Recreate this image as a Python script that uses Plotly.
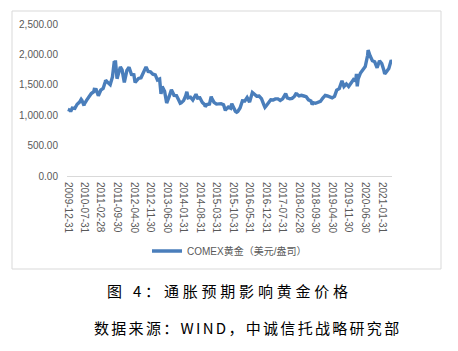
import plotly.graph_objects as go

dates = [
    "2009-12-31", "2010-01-29", "2010-02-05", "2010-02-26", "2010-03-31", "2010-04-30", "2010-05-31",
    "2010-06-21", "2010-06-30", "2010-07-28", "2010-07-30", "2010-08-31", "2010-09-30", "2010-10-29",
    "2010-11-30", "2010-12-07", "2010-12-31", "2011-01-28", "2011-02-28", "2011-03-31", "2011-04-29",
    "2011-05-02", "2011-05-31", "2011-06-30", "2011-07-29", "2011-08-22", "2011-08-31", "2011-09-05",
    "2011-09-26", "2011-09-30", "2011-10-31", "2011-11-08", "2011-11-30", "2011-12-29", "2012-01-31",
    "2012-02-28", "2012-03-30", "2012-04-30", "2012-05-16", "2012-05-31", "2012-06-29", "2012-07-31",
    "2012-08-31", "2012-09-28", "2012-10-04", "2012-10-31", "2012-11-30", "2012-12-31", "2013-01-31",
    "2013-02-28", "2013-03-28", "2013-04-15", "2013-04-30", "2013-05-31", "2013-06-27", "2013-07-31",
    "2013-08-27", "2013-09-30", "2013-10-31", "2013-11-29", "2013-12-19", "2013-12-31", "2014-01-31",
    "2014-02-28", "2014-03-14", "2014-03-31", "2014-04-30", "2014-05-30", "2014-06-30", "2014-07-10",
    "2014-07-31", "2014-08-29", "2014-09-30", "2014-10-31", "2014-11-06", "2014-11-28", "2014-12-31",
    "2015-01-22", "2015-01-30", "2015-02-27", "2015-03-31", "2015-04-30", "2015-05-29", "2015-06-30",
    "2015-07-24", "2015-07-31", "2015-08-31", "2015-09-30", "2015-10-14", "2015-10-30", "2015-11-30",
    "2015-12-17", "2015-12-31", "2016-01-29", "2016-02-29", "2016-03-31", "2016-04-29", "2016-05-31",
    "2016-06-30", "2016-07-06", "2016-07-29", "2016-08-31", "2016-09-30", "2016-10-31", "2016-11-30",
    "2016-12-15", "2016-12-30", "2017-01-31", "2017-02-28", "2017-03-31", "2017-04-28", "2017-05-31",
    "2017-06-30", "2017-07-31", "2017-08-31", "2017-09-08", "2017-09-29", "2017-10-31", "2017-11-30",
    "2017-12-29", "2018-01-25", "2018-01-31", "2018-02-28", "2018-03-30", "2018-04-30", "2018-05-31",
    "2018-06-29", "2018-07-31", "2018-08-16", "2018-08-31", "2018-09-28", "2018-10-31", "2018-11-30",
    "2018-12-31", "2019-01-31", "2019-02-28", "2019-03-29", "2019-04-30", "2019-05-31", "2019-06-28",
    "2019-07-31", "2019-08-30", "2019-09-04", "2019-09-30", "2019-10-31", "2019-11-29", "2019-12-31",
    "2020-01-31", "2020-02-28", "2020-03-09", "2020-03-19", "2020-03-31", "2020-04-30", "2020-05-29",
    "2020-06-30", "2020-07-31", "2020-08-06", "2020-08-31", "2020-09-30", "2020-10-30", "2020-11-30",
    "2020-12-31", "2021-01-29", "2021-02-26", "2021-03-08", "2021-03-31", "2021-04-30", "2021-05-31",
    "2021-06-04",
]
gold = [
    1096, 1081, 1058, 1118, 1113, 1180, 1215,
    1260, 1245, 1158, 1181, 1248, 1308, 1357,
    1386, 1425, 1421, 1320, 1411, 1439, 1556,
    1575, 1536, 1502, 1628, 1890, 1828, 1900,
    1600, 1620, 1725, 1795, 1746, 1540, 1738,
    1790, 1669, 1664, 1538, 1560, 1604, 1615,
    1692, 1776, 1795, 1719, 1714, 1675, 1663,
    1578, 1595, 1350, 1472, 1393, 1200, 1313,
    1420, 1327, 1323, 1250, 1195, 1202, 1240,
    1321, 1385, 1284, 1296, 1250, 1322, 1345,
    1282, 1287, 1210, 1172, 1140, 1175, 1184,
    1305, 1279, 1213, 1183, 1182, 1190, 1172,
    1080, 1095, 1135, 1115, 1190, 1142, 1065,
    1050, 1061, 1118, 1238, 1234, 1291, 1215,
    1322, 1375, 1350, 1311, 1316, 1272, 1174,
    1130, 1152, 1212, 1254, 1249, 1268, 1268,
    1242, 1270, 1322, 1355, 1284, 1270, 1277,
    1309, 1365, 1345, 1318, 1327, 1316, 1305,
    1253, 1233, 1175, 1206, 1196, 1215, 1226,
    1283, 1325, 1316, 1298, 1285, 1310, 1413,
    1437, 1529, 1565, 1472, 1514, 1472, 1523,
    1587, 1566, 1680, 1475, 1597, 1694, 1751,
    1800, 1986, 2070, 1978, 1895, 1879, 1780,
    1895, 1850, 1734, 1680, 1715, 1769, 1905,
    1892,
]

tick_dates = [
    "2009-12-31", "2010-07-31", "2011-02-28", "2011-09-30", "2012-04-30", "2012-11-30",
    "2013-06-30", "2014-01-31", "2014-08-31", "2015-03-31", "2015-10-31", "2016-05-31",
    "2016-12-31", "2017-07-31", "2018-02-28", "2018-09-30", "2019-04-30", "2019-11-30",
    "2020-06-30", "2021-01-31",
]
tick_labels = list(tick_dates)
y_ticks = [0, 500, 1000, 1500, 2000, 2500]

series_name = "COMEX黄金（美元/盎司）"
caption = "图 4：通胀预期影响黄金价格"
source = "数据来源：WIND，中诚信托战略研究部"

W, H = 458, 351
L, R, T, B = 67, 66, 24, 175
plot_h = H - T - B
plot_w = W - L - R

def px_x(px):
    return (px - L) / plot_w

def px_y(py):
    return (H - B - py) / plot_h

fig = go.Figure()
fig.add_trace(go.Scatter(
    x=dates, y=gold, mode="lines", name=series_name,
    line=dict(color="#4a7ebb", width=3.4),
))

axis_font = dict(family="Liberation Sans, Noto Sans CJK SC", size=10, color="#595959")

fig.update_layout(
    width=W, height=H,
    margin=dict(l=L, r=R, t=T, b=B),
    paper_bgcolor="white", plot_bgcolor="white",
    showlegend=True,
    legend=dict(
        orientation="h", x=0.5, xanchor="center", y=px_y(251), yanchor="middle",
        font=dict(family="Liberation Sans, Noto Sans CJK SC", size=10, color="#595959"),
        itemwidth=30, bgcolor="rgba(0,0,0,0)",
    ),
    xaxis=dict(
        type="date", range=["2009-12-20", "2021-06-10"],
        tickmode="array", tickvals=tick_dates, ticktext=tick_labels,
        tickangle=90, tickfont=axis_font, showgrid=False, zeroline=False,
        showline=True, linecolor="#d9d9d9", linewidth=1, ticks="",
        ticklabelstandoff=3,
    ),
    yaxis=dict(
        range=[0, 2500], tickvals=y_ticks, tickformat=",.2f",
        tickfont=axis_font, showgrid=False, zeroline=False, showline=False,
        ticks="", ticklabelstandoff=8,
    ),
    shapes=[dict(
        type="rect", xref="paper", yref="paper",
        x0=px_x(12), x1=px_x(441), y0=px_y(269), y1=px_y(11),
        line=dict(color="#d9d9d9", width=1), fillcolor="rgba(0,0,0,0)", layer="below",
    )],
    annotations=[
        dict(text='<span style="letter-spacing:3.8px">' + caption + '</span>',
             xref="paper", yref="paper", x=px_x(229), y=px_y(290),
             xanchor="center", yanchor="middle", showarrow=False,
             font=dict(family="Noto Sans CJK SC", size=15, color="#000000")),
        dict(text='<span style="letter-spacing:2.3px">' + source + '</span>',
             xref="paper", yref="paper", x=px_x(247), y=px_y(327),
             xanchor="center", yanchor="middle", showarrow=False,
             font=dict(family="Noto Sans CJK SC", size=15, color="#000000")),
    ],
)

fig.write_html("out.html")
